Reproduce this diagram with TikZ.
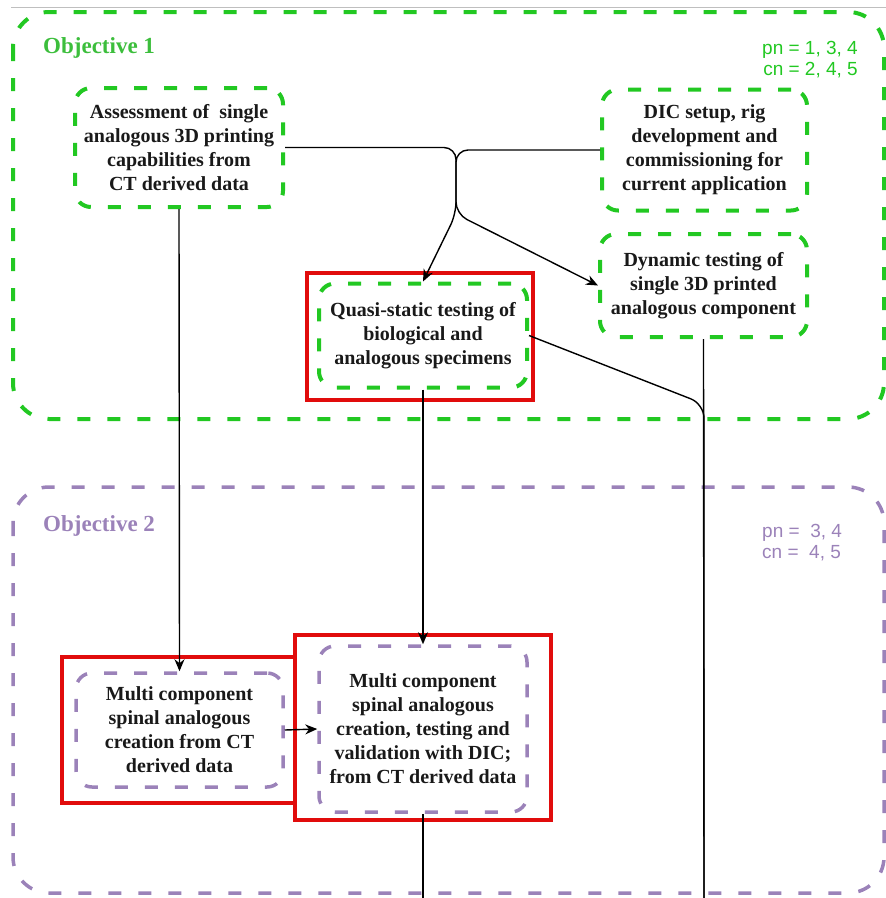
\documentclass[tikz,border=0pt]{standalone}
\usepackage{fontspec}
\setmainfont{Liberation Serif}
\newfontfamily\pnfont{Liberation Sans}
\usetikzlibrary{arrows.meta}
\definecolor{objgreen}{RGB}{34,200,34}
\definecolor{labelgreen}{RGB}{60,190,60}
\definecolor{objpurple}{RGB}{155,130,185}
\definecolor{framered}{RGB}{225,12,12}
\tikzstyle{objective}=[rounded corners=36pt,line width=4pt,dash pattern=on 13pt off 17pt]
\tikzstyle{task}=[rectangle,rounded corners=16pt,line width=4pt,dash pattern=on 13pt off 17pt,align=center,inner sep=0pt,text=black!90,font=\bfseries\fontsize{20}{24}\selectfont]
\tikzstyle{greentask}=[task,draw=objgreen]
\tikzstyle{purpletask}=[task,draw=objpurple,line width=3.5pt]
\tikzstyle{redframe}=[rectangle,draw=framered,line width=3.5pt,inner sep=0pt]
\tikzstyle{objlabel}=[anchor=base west,inner sep=0pt,font=\bfseries\fontsize{23}{28}\selectfont]
\tikzstyle{pnlabel}=[inner sep=0pt,font=\pnfont\fontsize{19}{21}\selectfont]
\tikzstyle{link}=[line width=1.4pt,black,>={Stealth[length=12pt,width=10pt]}]

\begin{document}
\begin{tikzpicture}[x=1pt,y=-1pt]
    \useasboundingbox (0,0) rectangle (886,898);
    \draw[gray!50,line width=0.8pt] (11,7) -- (886,7);
    % objective regions
    \draw[objective,draw=objgreen] (13,12) rectangle (884,419);
    \draw[objective,draw=objpurple,line width=3.5pt] (13,487) rectangle (884,893);
    \node[objlabel,text=labelgreen] at (43,53) (obj1) {Objective 1};
    \node[objlabel,text=objpurple] at (43,531) (obj2) {Objective 2};
    \node[pnlabel,anchor=base east,align=right,text=objgreen] at (858,75) (pn1) {pn = 1, 3, 4\\cn = 2, 4, 5};
    \node[pnlabel,anchor=base west,align=left,text=objpurple] at (762,558) (pn2) {pn =\ \ 3, 4\\cn =\ \ 4, 5};
    % red frames
    \node[redframe,minimum width=226pt,minimum height=127pt] at (420,336.5) (quasi-frame) {};
    \node[redframe,minimum width=233pt,minimum height=146pt] at (178.5,730) (multi-cr-frame) {};
    \node[redframe,minimum width=256pt,minimum height=185pt] at (423,727.5) (multi-val-frame) {};
    % tasks
    \node[greentask,minimum width=208pt,minimum height=119pt] at (179,147.5) (assess) {Assessment of\ \ single\\analogous 3D printing\\capabilities from\\CT derived data};
    \node[greentask,minimum width=205pt,minimum height=121pt] at (704.5,150) (dic) {DIC setup, rig\\development and\\commissioning for\\current application};
    \node[greentask,minimum width=207pt,minimum height=103pt] at (703.5,285.5) (dynamic) {Dynamic testing of\\single 3D printed\\analogous component};
    \node[greentask,minimum width=208pt,minimum height=104pt] at (423,335.5) (quasi) {Quasi-static testing of\\biological and\\analogous specimens};
    \node[purpletask,minimum width=207pt,minimum height=114pt] at (179.5,730) (multi-cr) {Multi component\\spinal analogous\\creation from CT\\derived data};
    \node[purpletask,minimum width=208pt,minimum height=166pt] at (423,729) (multi-val) {Multi component\\spinal analogous\\creation, testing and\\validation with DIC;\\from CT derived data};
    \coordinate (merge) at (456,148);
    \coordinate (split) at (456,214);
    \coordinate (bend) at (704,404);
    \coordinate (out-right) at (704,898);
    \coordinate (out-mid) at (423,898);
    % connectors
    \draw[link,->,rounded corners=12pt] (assess.east) -| (split) -- (quasi.north);
    \draw[link,->,rounded corners=12pt] (dic.west) -| (split) -- (dynamic.west);
    \draw[link,->] (assess.south) -- (multi-cr.north);
    \draw[link,->] (quasi.south) -- (multi-val.north);
    \draw[link,rounded corners=14pt] (quasi.east) -- (bend) -- (out-right);
    \draw[link] (dynamic.south) -- (out-right);
    \draw[link,->] (multi-cr.east) -- (multi-val.west);
    \draw[link] (multi-val.south) -- (out-mid);
  \end{tikzpicture}
\end{document}
